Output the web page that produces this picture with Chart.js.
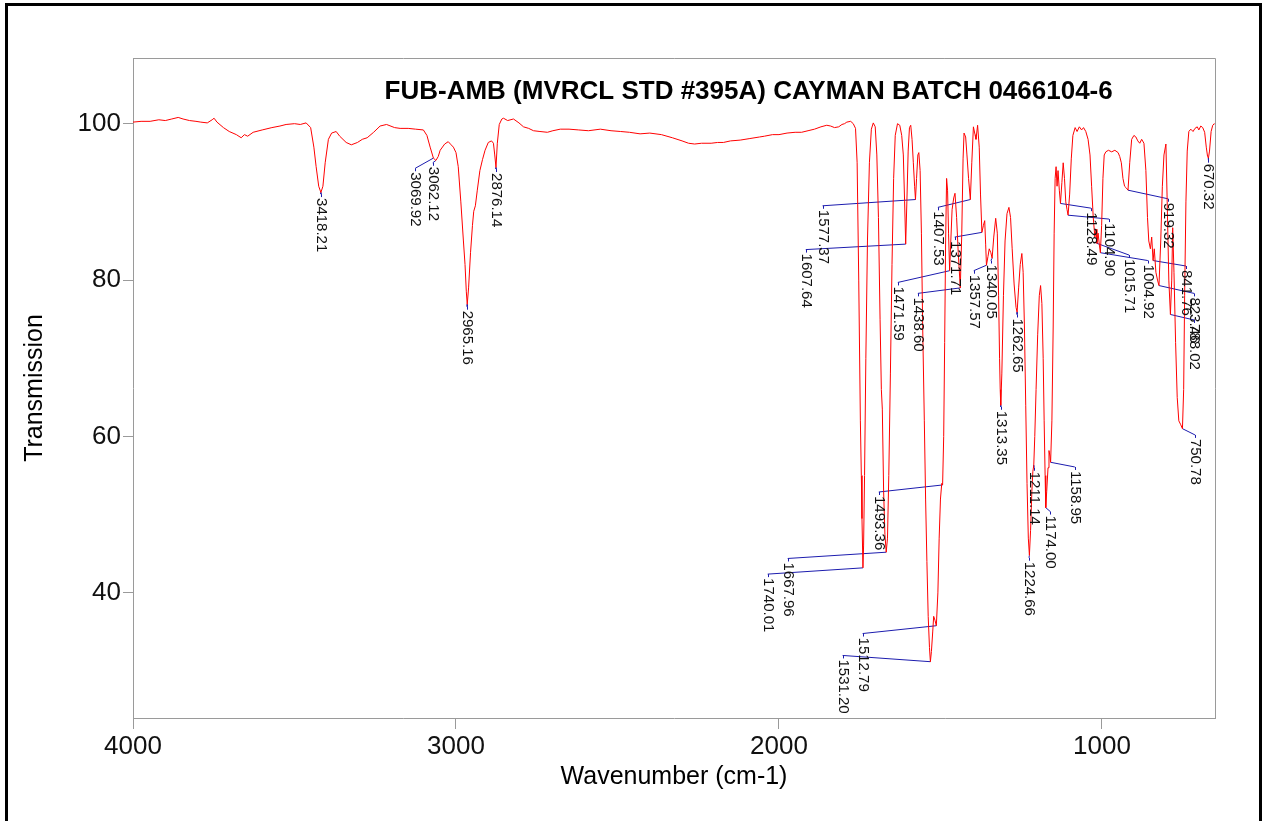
<!DOCTYPE html>
<html>
<head>
<meta charset="utf-8">
<title>FUB-AMB IR spectrum</title>
<script src="https://cdn.jsdelivr.net/npm/chart.js@4.4.1/dist/chart.umd.min.js"></script>
<style>
  html, body { margin: 0; padding: 0; background: #fff; overflow: hidden; }
  #wrap { position: relative; width: 1265px; height: 821px; }
  #frame { position: absolute; left: 5px; top: 3px; width: 1251px; height: 900px;
           border: 3px solid #000; border-bottom: none; pointer-events: none; }
  canvas { position: absolute; left: 0; top: 0; }
</style>
</head>
<body>
<div id="wrap">
  <canvas id="chart" width="1265" height="821"></canvas>
  <div id="frame"></div>
</div>
<script>
const FONT = "'Liberation Sans', Arial, Helvetica, sans-serif";
const TITLE = "FUB-AMB (MVRCL STD #395A) CAYMAN BATCH 0466104-6";

// Axis tick values
const xTicks = [4000, 3000, 2000, 1000];
const yTicks = [40, 60, 80, 100];

// Spectrum, 4000 - 1800 cm-1
const highWavenumber = [
  4000, 3975, 3947, 3920, 3900, 3880, 3860, 3845, 3825, 3805,
  3790, 3770, 3755, 3749, 3740, 3720, 3702, 3680, 3665, 3655,
  3645, 3628, 3600, 3570, 3545, 3526, 3500, 3482, 3464, 3450,
  3440, 3433, 3425, 3418.21, 3412, 3405, 3395, 3385, 3371, 3360,
  3340, 3324, 3305, 3290, 3275, 3255, 3235, 3215, 3190, 3173,
  3148, 3125, 3101, 3090, 3080, 3069.92, 3062.12, 3055, 3049, 3035,
  3024, 3015, 3008, 3000, 2993, 2985, 2977, 2972, 2968, 2965.16,
  2961, 2955, 2949, 2945, 2940, 2934, 2926, 2918, 2910, 2900,
  2890, 2884, 2880, 2876.14, 2872, 2866, 2858, 2853, 2840, 2822,
  2805, 2791, 2775, 2760, 2740, 2717, 2700, 2677, 2650, 2620,
  2590, 2553, 2520, 2490, 2463, 2430, 2400, 2364, 2330, 2300,
  2280, 2261, 2240, 2210, 2190, 2172, 2150, 2120, 2090, 2060,
  2045, 2020, 2000, 1975, 1950, 1930, 1910, 1890, 1870, 1852,
  1840, 1828, 1815, 1805
];
const highTransmission = [
  100.2, 100.3, 100.3, 100.5, 100.4, 100.6, 100.8, 100.6, 100.4, 100.3,
  100.2, 100.1, 100.5, 100.7, 100.2, 99.5, 99.0, 98.6, 98.2, 98.6,
  98.4, 98.9, 99.2, 99.5, 99.7, 99.9, 100.0, 99.9, 100.1, 99.5,
  97.0, 94.5, 92.0, 91.2, 92.0, 95.0, 98.0, 98.8, 99.0, 98.4,
  97.6, 97.3, 97.6, 98.0, 98.2, 98.9, 99.7, 99.9, 99.5, 99.4,
  99.4, 99.3, 99.2, 98.5, 97.0, 95.6, 95.3, 95.8, 96.6, 97.4,
  97.7, 97.3, 97.0, 96.3, 94.5, 90.0, 85.0, 82.0, 78.5, 76.9,
  79.0, 83.5, 87.0, 88.8, 89.5, 91.5, 94.0, 95.4, 96.6, 97.6,
  97.8, 97.5, 96.0, 94.4, 97.5, 99.9, 100.6, 100.7, 100.4, 100.6,
  100.1, 99.6, 99.4, 99.1, 99.0, 98.9, 99.1, 99.3, 99.3, 99.2,
  99.1, 99.3, 99.1, 99.0, 98.9, 98.7, 98.8, 98.6, 98.2, 97.8,
  97.5, 97.4, 97.5, 97.5, 97.6, 97.6, 97.8, 97.9, 98.1, 98.3,
  98.4, 98.6, 98.6, 98.8, 98.9, 98.9, 99.1, 99.3, 99.6, 99.8,
  99.7, 99.5, 99.6, 99.9
];

// Spectrum, fingerprint region 1800 - 650 cm-1
const fingerprintWavenumber = [
  1797, 1790, 1778, 1770, 1763, 1758, 1753, 1748, 1745, 1743,
  1740.01, 1738, 1735, 1731, 1726, 1720, 1714, 1708, 1702, 1697,
  1692, 1687, 1683, 1680, 1676, 1672, 1667.96, 1664, 1660, 1655,
  1650, 1645, 1640, 1633, 1626, 1620, 1615, 1611, 1607.64, 1604,
  1600, 1596, 1592, 1588, 1584, 1580, 1577.37, 1574, 1570, 1567,
  1563, 1559, 1555, 1550, 1546, 1542, 1538, 1534, 1531.20, 1528,
  1524, 1521, 1517, 1512.79, 1508, 1504, 1500, 1496, 1493.36, 1490,
  1487, 1484, 1481, 1478, 1475, 1471.59, 1468, 1464, 1459, 1455,
  1450, 1445, 1438.60, 1434, 1430, 1427, 1422, 1418, 1413, 1407.53,
  1403, 1398, 1393, 1390, 1385, 1380, 1376, 1371.71, 1367, 1363,
  1360, 1357.57, 1353, 1349, 1344, 1340.05, 1335, 1329, 1324, 1320,
  1317, 1315, 1313.35, 1310, 1305, 1300, 1294, 1288, 1283, 1278,
  1272, 1266, 1262.65, 1258, 1253, 1248, 1244, 1240, 1236, 1232,
  1228, 1224.66, 1221, 1217, 1214, 1211.14, 1208, 1204, 1199, 1194,
  1190, 1186, 1182, 1179, 1176, 1174.00, 1171, 1167, 1164, 1161,
  1158.95, 1155, 1151, 1148, 1145, 1142, 1139, 1136, 1132, 1128.49,
  1124, 1120, 1116, 1112, 1108, 1104.90, 1100, 1095, 1090, 1083,
  1077, 1070, 1063, 1057, 1050, 1043, 1037, 1032, 1027, 1022,
  1018, 1015.71, 1012, 1008, 1004.92, 1001, 997, 993, 988, 980,
  970, 960, 950, 945, 940, 935, 930, 925, 919.32, 914,
  908, 901, 895, 889, 883, 877, 870, 864, 859, 855,
  850, 846, 841.76, 838, 833, 828, 823.46, 818, 813, 808,
  802, 798, 793, 788.02, 784, 781, 777, 772, 767, 762,
  756, 750.78, 747, 744, 740, 736, 731, 725, 718, 712,
  705, 700, 694, 688, 682, 677, 673, 670.32, 667, 662,
  657, 652, 650
];
const fingerprintTransmission = [
  100.0, 100.2, 100.3, 100.0, 99.4, 95.0, 80.0, 62.0, 55.0, 49.5,
  43.2, 46.0, 55.0, 70.0, 85.0, 95.0, 99.3, 100.1, 99.6, 96.0,
  88.0, 75.0, 66.0, 63.5, 53.0, 47.5, 45.2, 47.0, 55.0, 68.0,
  82.0, 93.0, 98.5, 100.0, 99.8, 98.5, 96.0, 90.0, 84.6, 90.0,
  96.5, 99.5, 99.8, 98.0, 95.0, 92.0, 90.3, 93.0, 96.0, 96.3,
  94.0, 86.0, 74.0, 62.0, 52.0, 44.0, 37.0, 33.0, 31.2, 32.5,
  35.0, 37.0, 36.5, 35.8, 40.0, 47.0, 52.0, 54.0, 53.8, 60.0,
  72.0, 85.0, 93.0, 91.5, 86.0, 81.2, 85.0, 89.0, 90.5, 91.1,
  88.0, 83.5, 79.0, 86.0, 95.5, 98.8, 98.3, 96.0, 93.0, 90.3,
  95.0, 99.6, 98.6, 98.0, 99.8, 97.0, 91.0, 86.1, 87.0, 87.6,
  84.5, 81.9, 83.0, 84.0, 83.5, 82.8, 85.5, 87.9, 86.0, 78.0,
  70.0, 66.0, 64.0, 68.0, 78.0, 85.0, 88.5, 89.3, 88.0, 84.0,
  79.5, 76.5, 75.9, 79.0, 82.0, 83.4, 81.0, 74.0, 64.0, 54.0,
  47.0, 44.8, 48.0, 53.0, 55.5, 56.3, 60.0, 66.0, 73.0, 78.0,
  79.3, 77.0, 70.0, 62.0, 55.0, 50.9, 53.0, 56.0, 58.2, 57.5,
  56.7, 62.0, 74.0, 86.0, 93.0, 94.5, 92.0, 94.0, 91.5, 89.8,
  92.5, 95.0, 93.0, 90.0, 89.0, 88.3, 91.0, 95.5, 98.5, 99.5,
  99.0, 99.6, 99.2, 99.5, 99.0, 98.0, 96.0, 92.0, 88.0, 85.5,
  86.5, 84.7, 86.0, 84.5, 83.5, 87.0, 93.0, 96.0, 96.4, 96.6,
  96.4, 96.6, 96.3, 95.8, 95.0, 93.0, 92.0, 91.8, 91.5, 95.0,
  98.0, 98.5, 98.3, 97.8, 97.5, 98.0, 97.5, 94.0, 88.0, 85.0,
  84.0, 85.5, 82.5, 84.0, 81.0, 80.0, 79.3, 85.0, 92.0, 96.0,
  97.4, 90.0, 80.0, 75.6, 80.0, 86.7, 81.0, 72.0, 65.0, 62.0,
  61.5, 61.0, 66.0, 78.0, 90.0, 96.5, 99.0, 99.3, 99.0, 99.4,
  99.6, 99.2, 99.7, 99.5, 98.9, 97.0, 95.8, 95.6, 96.5, 99.0,
  99.8, 100.0, 99.9
];

// Picked peaks and where each peak label sits (wavenumber, transmission)
const peakWavenumber = [
  3418.21, 3069.92, 3062.12, 2965.16, 2876.14,
  1740.01, 1667.96, 1607.64, 1577.37, 1531.20, 1512.79, 1493.36,
  1471.59, 1438.60, 1407.53, 1371.71, 1357.57, 1340.05, 1313.35,
  1262.65, 1224.66, 1211.14, 1174.00, 1158.95, 1128.49, 1104.90,
  1015.71, 1004.92, 919.32, 841.76, 823.46, 788.02, 750.78, 670.32
];
const labelWavenumber = [
  3418.21, 3126, 3072, 2965.16, 2876.14,
  2035, 1973, 1917, 1865, 1803, 1741, 1691,
  1632, 1570, 1508, 1456, 1397, 1344, 1313.35,
  1262.65, 1226, 1211.14, 1160, 1084, 1034, 978,
  916, 858, 796, 740, 715, 715, 712, 670.32
];
const labelTransmission = [
  91.0, 94.3, 95.0, 76.6, 94.2,
  42.4, 44.4, 83.9, 89.5, 32.0, 34.8, 52.9,
  79.7, 78.3, 89.3, 85.5, 81.2, 82.5, 63.8,
  75.6, 44.5, 56.0, 50.4, 56.1, 89.2, 87.8,
  83.2, 82.5, 90.4, 81.8, 78.3, 74.9, 60.2, 95.4
];

const SPECTRUM_COLOR = '#ff0000';
const LEADER_COLOR = '#1c1cae';
const AXIS_COLOR = '#9a9a9a';

const spectrumWn = highWavenumber.concat(fingerprintWavenumber);
const spectrumT = highTransmission.concat(fingerprintTransmission);
const spectrum = spectrumWn.map((w, i) => ({ x: w, y: spectrumT[i] }));

function transmissionAt(w) {
  return spectrumT[spectrumWn.indexOf(w)];
}

// Leader lines from each peak to its label, separated by gaps
const leaders = [];
peakWavenumber.forEach((w, i) => {
  leaders.push({ x: w, y: transmissionAt(w) });
  leaders.push({ x: labelWavenumber[i], y: labelTransmission[i] });
  leaders.push({ x: labelWavenumber[i], y: null });
});

const frameAndText = {
  id: 'frameAndText',
  beforeDatasetsDraw(chart) {
    const { ctx, chartArea: a } = chart;
    ctx.save();
    ctx.strokeStyle = AXIS_COLOR;
    ctx.lineWidth = 1;
    ctx.beginPath();
    ctx.moveTo(a.left, a.top + 0.5);
    ctx.lineTo(a.right + 0.5, a.top + 0.5);
    ctx.lineTo(a.right + 0.5, a.bottom);
    ctx.stroke();
    ctx.restore();
  },
  afterDraw(chart) {
    const { ctx, chartArea: a, scales: { x, y } } = chart;
    ctx.save();

    // peak labels, rotated to read downward
    ctx.font = `15px ${FONT}`;
    ctx.textAlign = 'left';
    ctx.textBaseline = 'middle';
    peakWavenumber.forEach((w, i) => {
      const px = Math.round(x.getPixelForValue(labelWavenumber[i])) + 0.5;
      const py = y.getPixelForValue(labelTransmission[i]);
      ctx.strokeStyle = LEADER_COLOR;
      ctx.lineWidth = 1;
      ctx.beginPath();
      ctx.moveTo(px, py);
      ctx.lineTo(px, py + 3);
      ctx.stroke();
      ctx.save();
      ctx.translate(px, py + 4);
      ctx.rotate(Math.PI / 2);
      ctx.fillStyle = '#111';
      ctx.fillText(w.toFixed(2), 0, 0);
      ctx.restore();
    });

    // chart title inside the plot box
    ctx.fillStyle = '#000';
    ctx.font = `bold 26px ${FONT}`;
    ctx.textAlign = 'center';
    ctx.textBaseline = 'middle';
    ctx.fillText(TITLE, a.left + (a.right - a.left) * 0.569, a.top + 34);

    // axis titles
    ctx.font = `25px ${FONT}`;
    ctx.fillText('Wavenumber (cm-1)', (a.left + a.right) / 2, a.bottom + 59);
    ctx.save();
    ctx.translate(35, (a.top + a.bottom) / 2);
    ctx.rotate(-Math.PI / 2);
    ctx.fillText('Transmission', 0, 0);
    ctx.restore();

    ctx.restore();
  }
};

new Chart(document.getElementById('chart'), {
  type: 'scatter',
  data: {
    datasets: [
      {
        data: spectrum,
        showLine: true,
        borderColor: SPECTRUM_COLOR,
        borderWidth: 1,
        pointRadius: 0,
        tension: 0
      },
      {
        data: leaders,
        showLine: true,
        spanGaps: false,
        borderColor: LEADER_COLOR,
        borderWidth: 1,
        pointRadius: 0,
        tension: 0
      }
    ]
  },
  options: {
    responsive: false,
    animation: false,
    devicePixelRatio: 1,
    layout: { padding: { left: 0, top: 58, right: 50, bottom: 0 } },
    plugins: { legend: { display: false }, tooltip: { enabled: false }, title: { display: false } },
    scales: {
      x: {
        type: 'linear',
        reverse: true,
        min: 650,
        max: 4000,
        afterBuildTicks(scale) { scale.ticks = xTicks.map(v => ({ value: v })); },
        afterFit(scale) { scale.height = 103; },
        ticks: { color: '#111', font: { family: FONT, size: 26 }, padding: 2, maxRotation: 0, autoSkip: false,
                 callback: v => String(v) },
        grid: { display: true, drawOnChartArea: false, drawTicks: true, tickLength: 11, color: AXIS_COLOR, tickColor: AXIS_COLOR },
        border: { display: true, color: AXIS_COLOR, width: 1 }
      },
      y: {
        type: 'linear',
        min: 24,
        max: 108.4,
        afterBuildTicks(scale) { scale.ticks = yTicks.map(v => ({ value: v })); },
        afterFit(scale) { scale.width = 133; },
        ticks: { color: '#111', font: { family: FONT, size: 26 }, padding: 2, autoSkip: false,
                 callback: v => String(v) },
        grid: { display: true, drawOnChartArea: false, drawTicks: true, tickLength: 10, color: AXIS_COLOR, tickColor: AXIS_COLOR },
        border: { display: true, color: AXIS_COLOR, width: 1 }
      }
    }
  },
  plugins: [frameAndText]
});
</script>
</body>
</html>
